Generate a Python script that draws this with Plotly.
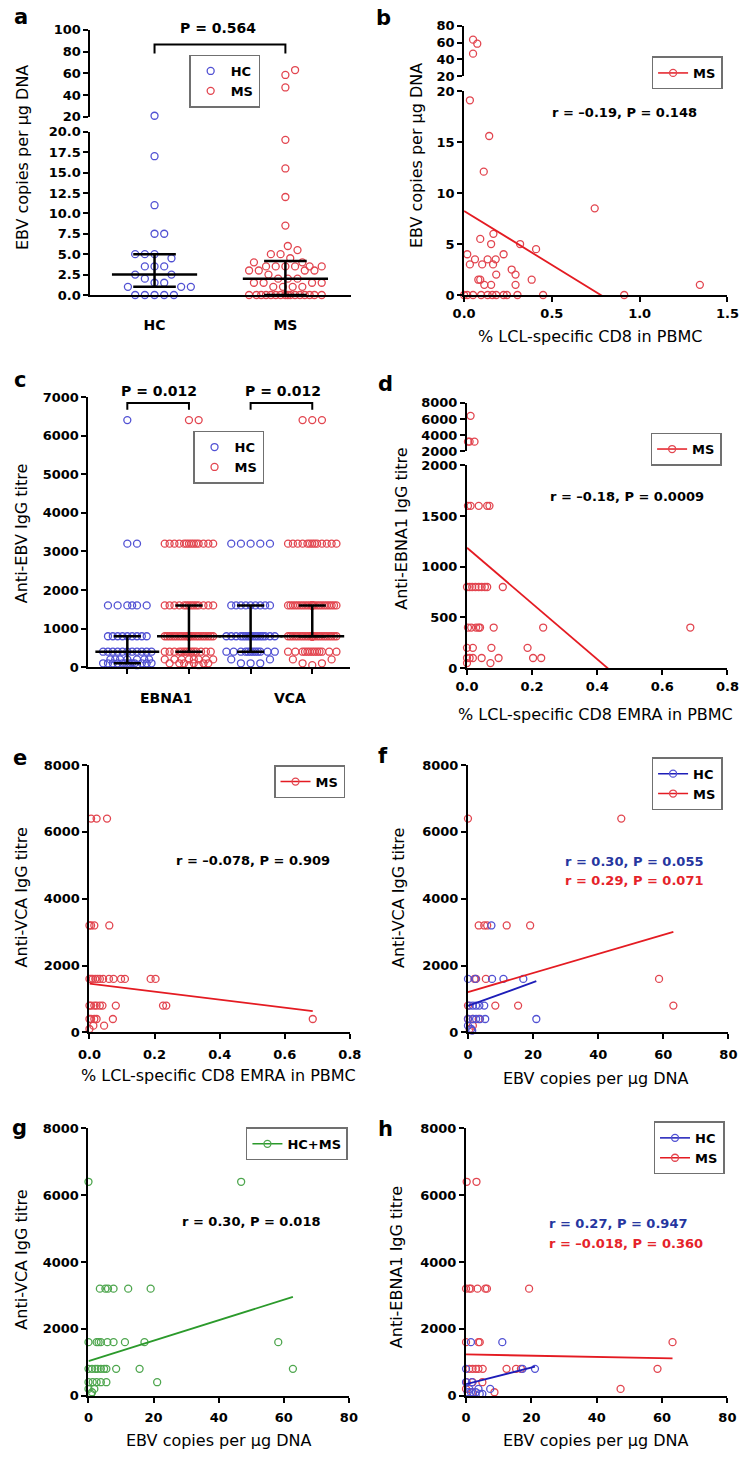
import plotly.graph_objects as go

# ======================= DATA =======================
# Panel a: EBV copies per ug DNA (HC vs MS)
a_groups = ["HC", "MS"]
a_hc = [21, 17, 11, 7.5, 7.5, 5, 5, 5, 4.5, 3.5, 3.5, 3.5, 2.5, 2.5, 2, 1.5, 1.5,
        1, 1, 1, 0, 0, 0, 0, 0]
a_ms = [63, 58.5, 47, 19, 15.5, 12, 8.5, 6, 5.5, 5, 5, 4.5, 4, 4,
        3.5, 3.5, 3.5, 3.5, 3.5, 3.5, 3, 3, 3, 3, 2.5, 2, 2, 2,
        1.5, 1.5, 1.5, 1.5, 1, 1, 1, 1,
        0, 0, 0, 0, 0, 0, 0, 0, 0, 0, 0, 0, 0, 0, 0, 0]
a_median = [2.5, 2.0]
a_q1 = [1.0, 0.0]
a_q3 = [5.0, 4.15]
a_ticks_low = [0, 2.5, 5, 7.5, 10, 12.5, 15, 17.5, 20]
a_ticks_up = [20, 40, 60, 80, 100]

# Panel b: % LCL-specific CD8 vs EBV copies (MS)
b_x = [0.051, 0.075, 0.051, 0.033, 0.143, 0.112, 0.744, 0.092, 0.154, 0.167, 0.319,
       0.41, 0.018, 0.225, 0.062, 0.134, 0.18, 0.033, 0.103, 0.165, 0.271, 0.183,
       0.293, 0.081, 0.092, 0.385, 0.115, 0.154, 0.293, 1.343,
       0.0, 0.018, 0.051, 0.097, 0.134, 0.161, 0.183, 0.225, 0.244, 0.304, 0.45, 0.912]
b_y = [63.5, 58.7, 46.9, 19.1, 15.6, 12.1, 8.5, 5.5, 5.0, 6.0, 5.0,
       4.5, 4.0, 4.0, 3.5, 3.5, 3.5, 3.0, 3.0, 3.0, 2.5, 2.0,
       2.0, 1.5, 1.5, 1.5, 1.0, 1.0, 1.0, 1.0,
       0, 0, 0, 0, 0, 0, 0, 0, 0, 0, 0, 0]
b_fit = (8.25, -10.6)  # intercept, slope
b_ticks_x = [0, 0.5, 1.0, 1.5]
b_ticks_low = [0, 5, 10, 15, 20]
b_ticks_up = [20, 40, 60, 80]

# Panel c: anti-EBV IgG titres (counts per titre level)
c_levels = [6400, 3200, 1600, 800, 400, 200, 100, 50]
c_ebna1_hc_n = [1, 2, 6, 9, 11, 7, 12, 2]
c_ebna1_ms_n = [2, 14, 14, 24, 14, 8, 6, 2]
c_vca_hc_n = [0, 5, 9, 16, 12, 2, 3, 0]
c_vca_ms_n = [3, 13, 28, 28, 13, 2, 2, 1]
c_median = [400, 800, 800, 800]
c_q1 = [100, 400, 400, 800]
c_q3 = [800, 1600, 1600, 1600]
c_antigens = ["EBNA1", "VCA"]

# Panel d: % LCL-specific CD8 EMRA vs anti-EBNA1 (MS)
d_x = [0.011, 0.003, 0.008, 0.023,
       0.003, 0.011, 0.036, 0.062, 0.069,
       0.0, 0.008, 0.016, 0.026, 0.036, 0.045, 0.055, 0.062, 0.11,
       0.003, 0.013, 0.028, 0.036, 0.04, 0.082, 0.234, 0.686,
       0.0, 0.018, 0.075, 0.186,
       0.0, 0.008, 0.018, 0.045, 0.097, 0.203, 0.228,
       0.0, 0.072]
d_y = [6400, 3200, 3200, 3200,
       1600, 1600, 1600, 1600, 1600,
       800, 800, 800, 800, 800, 800, 800, 800, 800,
       400, 400, 400, 400, 400, 400, 400, 400,
       200, 200, 200, 200,
       100, 100, 100, 100, 100, 100, 100,
       50, 50]
d_fit = (1187, -2748)

# Panel e: % LCL-specific CD8 EMRA vs anti-VCA (MS)
e_x = [0.005, 0.022, 0.054,
       0.0, 0.005, 0.015, 0.061,
       0.0, 0.005, 0.01, 0.018, 0.025, 0.032, 0.042, 0.06, 0.074, 0.097, 0.109, 0.188, 0.203,
       0.0, 0.005, 0.015, 0.022, 0.032, 0.04, 0.081, 0.226, 0.236,
       0.0, 0.005, 0.015, 0.022, 0.072, 0.686,
       0.012, 0.045,
       0.0]
e_y = [6400, 6400, 6400,
       3200, 3200, 3200, 3200,
       1600, 1600, 1600, 1600, 1600, 1600, 1600, 1600, 1600, 1600, 1600, 1600, 1600,
       800, 800, 800, 800, 800, 800, 800, 800, 800,
       400, 400, 400, 400, 400, 400,
       200, 200,
       100]
e_fit = (1460, -1200)

# Panel f: EBV copies vs anti-VCA (HC, MS)
f_hc_x = [7.2, 0, 2.3, 7.4, 10.9, 17.0, 0.5, 1.5, 2.5, 3.5, 5.0, 0, 1.5, 2.5, 3.7, 5.3, 21.0, 0, 1.0, 1.3]
f_hc_y = [3200, 1600, 1600, 1600, 1600, 1600, 800, 800, 800, 800, 800,
          400, 400, 400, 400, 400, 400, 200, 100, 50]
f_ms_x = [0, 47.1, 3.3, 5.0, 5.9, 11.9, 19.1, 2.0, 2.5, 5.5, 58.7, 0, 8.4, 15.4, 63.1, 0, 1.5, 3.3, 1.5, 0.5]
f_ms_y = [6400, 6400, 3200, 3200, 3200, 3200, 3200, 1600, 1600, 1600, 1600,
          800, 800, 800, 800, 400, 400, 400, 200, 100]
f_hc_fit = (790, 35.4)
f_ms_fit = (1205, 28.6)

# Panel g: EBV copies vs anti-VCA (HC+MS)
g_x = [0, 46.9, 3.5, 5.2, 6.0, 7.7, 12.2, 19.1,
       0, 2.5, 3.1, 3.8, 5.8, 7.7, 11.2, 17.2, 58.3,
       0, 1.1, 2.1, 2.8, 3.8, 4.8, 5.5, 8.5, 15.7, 62.8,
       0, 1.3, 2.5, 3.8, 5.5, 21.1, 0, 1.8, 1.1, 0.8]
g_y = [6400, 6400, 3200, 3200, 3200, 3200, 3200, 3200,
       1600, 1600, 1600, 1600, 1600, 1600, 1600, 1600, 1600,
       800, 800, 800, 800, 800, 800, 800, 800, 800, 800,
       400, 400, 400, 400, 400, 400, 200, 200, 100, 50]
g_fit = (1034, 30.6)

# Panel h: EBV copies vs anti-EBNA1 (HC, MS)
h_hc_x = [1.5, 11.1, 0, 17.3, 21.1, 0, 1.8, 1.0, 3.8, 7.4, 0.5, 1.5, 3.0, 4.2, 5.0]
h_hc_y = [1600, 1600, 800, 800, 800, 400, 400, 200, 200, 200, 100, 100, 100, 50, 50]
h_ms_x = [0.2, 3.2, 0, 1.0, 1.5, 3.5, 5.9, 6.4, 19.3, 0, 3.8, 4.2, 63.2,
          1.0, 2.0, 3.0, 3.8, 5.1, 12.4, 15.3, 16.8, 58.6, 0.2, 2.0, 5.0, 0, 47.3, 2.0, 8.7]
h_ms_y = [6400, 6400, 3200, 3200, 3200, 3200, 3200, 3200, 3200, 1600, 1600, 1600, 1600,
          800, 800, 800, 800, 800, 800, 800, 800, 800, 400, 400, 400, 200, 200, 100, 100]
h_hc_fit = (345, 24.6)
h_ms_fit = (1232, -1.88)

titre_ticks = [0, 2000, 4000, 6000, 8000]
copies_ticks = [0, 20, 40, 60, 80]
emra_ticks = [0, 0.2, 0.4, 0.6, 0.8]

# ======================= STYLE / LAYOUT HELPERS =======================
W, H = 752, 1459
FONT = "DejaVu Sans"
BLUE_M, RED_M, GREEN_M = "#5151d3", "#e2454f", "#4ea64e"
BLUE_L, RED_L, GREEN_L = "#1d1db8", "#e41b22", "#2b9a2b"
BLUE_T, RED_T = "#26369f", "#e5232a"


def xd(l, r):
    return [l / W, r / W]


def yd(t, b):
    return [1 - b / H, 1 - t / H]


def PX(x):
    return x / W


def PY(y):
    return 1 - y / H


TICKFONT = dict(family=FONT, size=13, color="black", weight="bold")


def axis(**kw):
    d = dict(showline=True, linecolor="black", linewidth=2, ticks="outside", ticklen=5,
             tickwidth=2, tickcolor="black", showgrid=False, zeroline=False,
             tickfont=TICKFONT, fixedrange=True)
    d.update(kw)
    return d


def swarm(values, ypx, d=10.0, step=2.5, maxhalf=30.0):
    """Beeswarm offsets (in px) for points of one group."""
    order = sorted(range(len(values)), key=lambda i: values[i])
    cands = [0.0]
    k = 1
    while k * step <= maxhalf + 1e-9:
        cands += [k * step, -k * step]
        k += 1
    placed = []
    offs = [0.0] * len(values)
    for i in order:
        y = ypx(values[i])
        best, bestd = 0.0, -1.0
        for c in cands:
            md = min([((c - x) ** 2 + (y - yy) ** 2) ** 0.5 for x, yy in placed] or [1e9])
            if md >= d:
                best = c
                break
            if md > bestd + 1e-9:
                bestd, best = md, c
        offs[i] = best
        placed.append((best, y))
    return offs


fig = go.Figure()


def pts(x, y, xa, ya, color, name=None, legend="legend", showlegend=False):
    fig.add_trace(go.Scatter(
        x=x, y=y, xaxis=xa, yaxis=ya, mode="markers", cliponaxis=False,
        marker=dict(symbol="circle-open", size=7, color=color, line=dict(width=1.3)),
        name=name, legend=legend, showlegend=showlegend, hoverinfo="skip"))


def legend_entry(name, mcolor, lcolor, legend, xa, ya):
    fig.add_trace(go.Scatter(
        x=[None], y=[None], xaxis=xa, yaxis=ya, mode="lines+markers",
        line=dict(color=lcolor, width=1.5),
        marker=dict(symbol="circle-open", size=7, color=mcolor, line=dict(width=1.3)),
        name=name, legend=legend, showlegend=True, hoverinfo="skip"))


def fitline(xs, fit, xa, ya, color):
    a, b = fit
    x0, x1 = min(xs), max(xs)
    fig.add_trace(go.Scatter(
        x=[x0, x1], y=[a + b * x0, a + b * x1], xaxis=xa, yaxis=ya, mode="lines",
        line=dict(color=color, width=1.8), showlegend=False, hoverinfo="skip"))


def split(xs, ys, brk):
    lo = [(x, y) for x, y in zip(xs, ys) if y <= brk]
    hi = [(x, y) for x, y in zip(xs, ys) if y > brk]
    return ([p[0] for p in lo], [p[1] for p in lo]), ([p[0] for p in hi], [p[1] for p in hi])


def stat_lines(centers, med, q1, q3, hw_med, hw_cap, xa, ya):
    xs, ys = [], []
    for c, m, lo, hi in zip(centers, med, q1, q3):
        xs += [c - hw_med, c + hw_med, None, c, c, None,
               c - hw_cap, c + hw_cap, None, c - hw_cap, c + hw_cap, None]
        ys += [m, m, None, lo, hi, None, lo, lo, None, hi, hi, None]
    fig.add_trace(go.Scatter(x=xs, y=ys, xaxis=xa, yaxis=ya, mode="lines",
                             line=dict(color="black", width=2.5), cliponaxis=False,
                             showlegend=False, hoverinfo="skip"))


anns = []
shapes = []


def text(xp, yp, s, size=13, bold=True, color="black", angle=0, xanchor="center"):
    anns.append(dict(x=PX(xp), y=PY(yp), xref="paper", yref="paper", text=s,
                     showarrow=False, textangle=angle, xanchor=xanchor, yanchor="middle",
                     font=dict(family=FONT, size=size, color=color,
                               weight="bold" if bold else "normal")))


def bracket(xref, c0, c1, ytop, ybot):
    shapes.append(dict(type="path", xref=xref, yref="paper",
                       path=f"M {c0},{PY(ybot)} L {c0},{PY(ytop)} L {c1},{PY(ytop)} L {c1},{PY(ybot)}",
                       line=dict(color="black", width=2)))


def leg(xp, yp, anchor="left"):
    return dict(x=PX(xp), y=PY(yp), xanchor=anchor, yanchor="top", bgcolor="white",
                bordercolor="#707070", borderwidth=1.5, tracegroupgap=0, itemwidth=30,
                font=dict(family=FONT, size=13, color="black", weight="bold"),
                itemclick=False, itemdoubleclick=False)


# ======================= PANEL a =======================
a_xrange = [-0.49, 1.5]
a_ppu = (350 - 81) / (a_xrange[1] - a_xrange[0])


def a_ypx(v):
    return v * 165 / 20 if v <= 20 else 180 + (v - 20) * 88 / 80


for gi, (vals, col, nm) in enumerate([(a_hc, BLUE_M, "HC"), (a_ms, RED_M, "MS")]):
    offs = swarm(vals, a_ypx, d=10, step=2.5, maxhalf=38)
    xs = [gi + o / a_ppu for o in offs]
    (lx, ly), (hx, hy) = split(xs, vals, 20.5)
    pts(lx, ly, "x", "y", col, name=nm, legend="legend", showlegend=True)
    if hx:
        pts(hx, hy, "x", "y2", col)
stat_lines([0, 1], a_median, a_q1, a_q3, 44 / a_ppu, 22 / a_ppu, "x", "y")
bracket("x", 0, 1, 38, 47)
text(213, 21, "P = 0.564", size=14)

# ======================= PANEL b =======================
(lx, ly), (hx, hy) = split(b_x, b_y, 20)
pts(lx, ly, "x2", "y3", RED_M)
pts(hx, hy, "x2", "y4", RED_M)
fitline(b_x, b_fit, "x2", "y3", RED_L)
legend_entry("MS", RED_M, RED_L, "legend2", "x2", "y3")
text(633, 107, "r = –0.19, P = 0.148")

# ======================= PANEL c =======================
c_xrange = [-0.63, 3.61]
c_ppu = (349 - 79) / (c_xrange[1] - c_xrange[0])


def c_ypx(v):
    return v * 273 / 7000


c_groups = [(c_ebna1_hc_n, BLUE_M, "HC", True), (c_ebna1_ms_n, RED_M, "MS", True),
            (c_vca_hc_n, BLUE_M, "HC", False), (c_vca_ms_n, RED_M, "MS", False)]
for gi, (counts, col, nm, sl) in enumerate(c_groups):
    vals = []
    for lv, n in zip(c_levels, counts):
        vals += [lv] * n
    offs = swarm(vals, c_ypx, d=10, step=2.5, maxhalf=27)
    xs = [gi + o / c_ppu for o in offs]
    pts(xs, vals, "x3", "y5", col, name=nm, legend="legend3", showlegend=sl)
stat_lines([0, 1, 2, 3], c_median, c_q1, c_q3, 33 / c_ppu, 14 / c_ppu, "x3", "y5")
bracket("x3", 0, 1, 400, 407)
bracket("x3", 2, 3, 400, 407)
text(152, 388, "P = 0.012", size=14)
text(280, 388, "P = 0.012", size=14)
text(160, 698, c_antigens[0], size=14)
text(287, 698, c_antigens[1], size=14)

# ======================= PANEL d =======================
(lx, ly), (hx, hy) = split(d_x, d_y, 2000)
pts(lx, ly, "x4", "y6", RED_M)
pts(hx, hy, "x4", "y7", RED_M)
fitline(d_x, d_fit, "x4", "y6", RED_L)
legend_entry("MS", RED_M, RED_L, "legend4", "x4", "y6")
text(635, 495, "r = –0.18, P = 0.0009")

# ======================= PANEL e =======================
pts(e_x, e_y, "x5", "y8", RED_M)
fitline(e_x, e_fit, "x5", "y8", RED_L)
legend_entry("MS", RED_M, RED_L, "legend5", "x5", "y8")
text(249, 862, "r = –0.078, P = 0.909")

# ======================= PANEL f =======================
pts(f_ms_x, f_ms_y, "x6", "y9", RED_M)
pts(f_hc_x, f_hc_y, "x6", "y9", BLUE_M)
fitline(f_ms_x, f_ms_fit, "x6", "y9", RED_L)
fitline(f_hc_x, f_hc_fit, "x6", "y9", BLUE_L)
legend_entry("HC", BLUE_M, BLUE_L, "legend6", "x6", "y9")
legend_entry("MS", RED_M, RED_L, "legend6", "x6", "y9")
text(569, 863, "r = 0.30, P = 0.055", color=BLUE_T, xanchor="left")
text(569, 883, "r = 0.29, P = 0.071", color=RED_T, xanchor="left")

# ======================= PANEL g =======================
pts(g_x, g_y, "x7", "y10", GREEN_M)
fitline(g_x, g_fit, "x7", "y10", GREEN_L)
legend_entry("HC+MS", GREEN_M, GREEN_L, "legend7", "x7", "y10")
text(247, 1227, "r = 0.30, P = 0.018")

# ======================= PANEL h =======================
pts(h_ms_x, h_ms_y, "x8", "y11", RED_M)
pts(h_hc_x, h_hc_y, "x8", "y11", BLUE_M)
fitline(h_ms_x, h_ms_fit, "x8", "y11", RED_L)
fitline(h_hc_x, h_hc_fit, "x8", "y11", BLUE_L)
legend_entry("HC", BLUE_M, BLUE_L, "legend8", "x8", "y11")
legend_entry("MS", RED_M, RED_L, "legend8", "x8", "y11")
text(553, 1229, "r = 0.27, P = 0.947", color=BLUE_T, xanchor="left")
text(553, 1249, "r = –0.018, P = 0.360", color=RED_T, xanchor="left")

# ======================= titles, letters =======================
YT = "EBV copies per µg DNA"
EMRA = "% LCL-specific CD8 EMRA in PBMC"
for xp, yp, s in [(11, 152, YT), (418, 150, YT), (10, 532, "Anti-EBV IgG titre"),
                  (402, 527, "Anti-EBNA1 IgG titre"), (10, 900, "Anti-VCA IgG titre"),
                  (400, 900, "Anti-VCA IgG titre"), (10, 1266, "Anti-VCA IgG titre"),
                  (398, 1273, "Anti-EBNA1 IgG titre")]:
    text(xp, yp, s, size=16, bold=False, angle=-90)
for xp, yp, s in [(597, 333, "% LCL-specific CD8 in PBMC"), (603, 715, EMRA),
                  (213, 1080, EMRA), (603, 1083, YT), (213, 1448, YT), (603, 1448, YT)]:
    text(xp, yp, s, size=16, bold=False)
for xp, yp, s in [(9, 10, "a"), (384, 11, "b"), (8, 377, "c"), (386, 381, "d"),
                  (8, 759, "e"), (383, 757, "f"), (8, 1133, "g"), (386, 1134, "h")]:
    text(xp, yp, s, size=21)

TF13 = dict(TICKFONT, size=13)
TF14 = dict(TICKFONT, size=14)
fig.update_layout(
    width=W, height=H, margin=dict(l=0, r=0, t=0, b=0, pad=0),
    paper_bgcolor="white", plot_bgcolor="white",
    font=dict(family=FONT, color="black"),
    hovermode=False,
    # panel a
    xaxis=axis(domain=xd(81, 350), range=a_xrange, anchor="y", tickvals=[0, 1],
               ticktext=a_groups, ticks="", tickfont=TF14, ticklabelstandoff=16),
    yaxis=axis(domain=yd(126, 291), range=[0, 20], anchor="x", tickvals=a_ticks_low,
               tickformat=".1f", tickfont=TF13),
    yaxis2=axis(domain=yd(23, 111), range=[20, 100], anchor="x", tickvals=a_ticks_up,
                tickfont=TF13),
    # panel b
    xaxis2=axis(domain=xd(467, 739), range=[0, 1.5], anchor="y3", tickvals=b_ticks_x,
                tickformat=".1f", ticklabelstandoff=0),
    yaxis3=axis(domain=yd(85, 291), range=[0, 20], anchor="x2", tickvals=b_ticks_low),
    yaxis4=axis(domain=yd(19, 70), range=[20, 80], anchor="x2", tickvals=b_ticks_up),
    # panel c
    xaxis3=axis(domain=xd(79, 349), range=c_xrange, anchor="y5", tickvals=[0, 1, 2, 3],
                ticktext=["", "", "", ""]),
    yaxis5=axis(domain=yd(394, 667), range=[0, 7000], anchor="x3", dtick=1000),
    # panel d
    xaxis4=axis(domain=xd(470, 739), range=[0, 0.8], anchor="y6", tickvals=emra_ticks,
                tickformat=".1f"),
    yaxis6=axis(domain=yd(463, 668), range=[0, 2000], anchor="x4", dtick=500),
    yaxis7=axis(domain=yd(400, 449), range=[2000, 8000], anchor="x4", dtick=2000),
    # panel e
    xaxis5=axis(domain=xd(80, 349), range=[0, 0.8], anchor="y8", tickvals=emra_ticks,
                tickformat=".1f", ticklabelstandoff=4),
    yaxis8=axis(domain=yd(766, 1036), range=[0, 8000], anchor="x5", tickvals=titre_ticks),
    # panel f
    xaxis6=axis(domain=xd(471, 740), range=[0, 80], anchor="y9", tickvals=copies_ticks,
                ticklabelstandoff=4),
    yaxis9=axis(domain=yd(766, 1036), range=[0, 8000], anchor="x6", tickvals=titre_ticks),
    # panel g
    xaxis7=axis(domain=xd(79, 348), range=[0, 80], anchor="y10", tickvals=copies_ticks,
                ticklabelstandoff=4),
    yaxis10=axis(domain=yd(1133, 1403), range=[0, 8000], anchor="x7", tickvals=titre_ticks),
    # panel h
    xaxis8=axis(domain=xd(469, 739), range=[0, 80], anchor="y11", tickvals=copies_ticks,
                ticklabelstandoff=4),
    yaxis11=axis(domain=yd(1133, 1403), range=[0, 8000], anchor="x8", tickvals=titre_ticks),
    legend=leg(183, 48), legend2=leg(734, 50, "right"), legend3=leg(187, 428),
    legend4=leg(733, 430, "right"), legend5=leg(344, 766, "right"),
    legend6=leg(734, 758, "right"), legend7=leg(347, 1132, "right"),
    legend8=leg(736, 1126, "right"),
    annotations=anns, shapes=shapes,
)

fig.write_html(
    "out.html",
    config={"displayModeBar": False, "staticPlot": True},
    post_script="document.documentElement.style.margin='0';document.body.style.margin='0';"
                "document.body.style.padding='0';document.body.style.overflow='hidden';",
)
